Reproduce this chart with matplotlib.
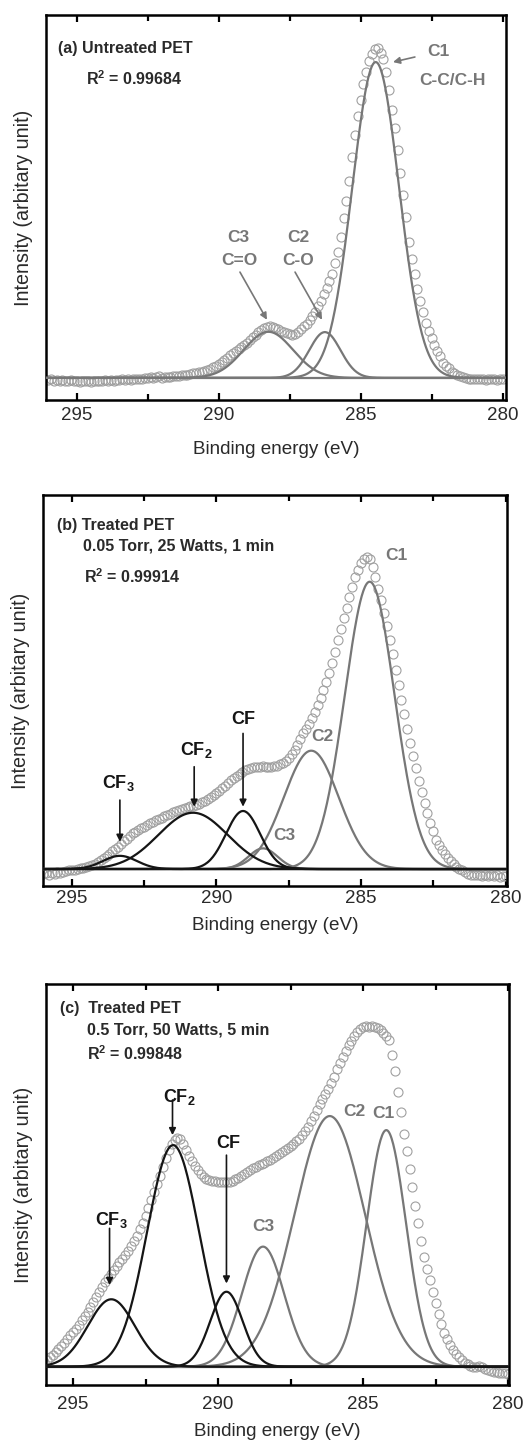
import numpy as np
import matplotlib
matplotlib.use('Agg')
import matplotlib.pyplot as plt

plt.rcParams['font.family'] = ['Liberation Sans', 'DejaVu Sans']
plt.rcParams['mathtext.fontset'] = 'custom'
plt.rcParams['mathtext.rm'] = 'Liberation Sans'
plt.rcParams['mathtext.bf'] = 'Liberation Sans:bold'

# binding energy grid of the measured points (eV), 296.0 -> 280.0
energy = np.round(np.arange(296.0, 279.95, -0.1), 1)

# (a) untreated PET, measured intensity
data_a = [
    -0.8, -0.5, -0.9, -0.6, -1.0, -0.7, -0.9, -1.1, -0.8, -1.0,
    -0.9, -1.2, -1.0, -1.1, -0.9, -1.2, -1.0, -1.1, -0.9, -1.0,
    -0.8, -1.0, -0.7, -0.9, -0.6, -0.8, -0.5, -0.7, -0.4, -0.6,
    -0.3, -0.5, -0.2, -0.3, 0.0, -0.1, 0.2, 0.1, 0.4, 0.5,
    0.1, 0.2, 0.3, 0.4, 0.5, 0.6, 0.7, 0.8, 0.9, 1.0,
    1.2, 1.4, 1.6, 1.8, 2.0, 2.3, 2.5, 2.9, 3.4, 3.9,
    4.4, 5.0, 5.6, 6.3, 7.1, 7.8, 8.5, 9.1, 9.8, 10.4,
    11.0, 11.9, 12.8, 13.7, 14.5, 15.2, 15.7, 16.2, 16.3, 16.1,
    15.8, 15.5, 15.0, 14.5, 14.1, 13.8, 13.6, 13.8, 14.5, 15.5,
    16.3, 17.2, 18.2, 19.5, 21.0, 22.8, 24.5, 26.5, 28.5, 30.6,
    33.0, 36.5, 40.0, 44.5, 50.5, 56.0, 62.5, 70.0, 77.0, 83.0,
    88.0, 93.0, 97.0, 100.2, 102.5, 104.0, 104.3, 103.0, 101.0, 97.0,
    91.0, 84.8, 79.0, 72.0, 64.8, 58.0, 51.0, 43.0, 37.5, 33.0,
    28.0, 24.5, 21.0, 17.5, 15.0, 12.5, 10.5, 8.5, 6.8, 4.8,
    3.8, 3.0, 2.0, 1.4, 1.0, 0.6, 0.3, 0.0, -0.2, -0.3,
    -0.4, -0.2, -0.5, -0.3, -0.6, -0.4, -0.5, -0.3, -0.6, -0.4, -0.5,
]

# (b) treated PET 0.05 Torr, 25 W, 1 min
data_b = [
    -1.8, -1.5, -1.9, -1.4, -1.6, -1.2, -1.3, -0.9, -0.8, -0.5,
    -0.4, -0.2, 0.0, 0.2, 0.4, 0.6, 0.9, 1.3, 1.8, 2.4,
    3.0, 3.7, 4.5, 5.4, 6.2, 7.0, 7.8, 8.7, 9.6, 10.5,
    11.5, 12.4, 13.0, 13.6, 14.2, 14.7, 15.3, 15.9, 16.4, 16.9,
    17.4, 17.9, 18.4, 18.9, 19.3, 19.7, 20.1, 20.5, 20.9, 21.2,
    21.5, 21.8, 22.1, 22.4, 22.8, 23.3, 23.8, 24.4, 25.0, 25.6,
    26.3, 27.2, 28.1, 29.0, 29.9, 30.9, 31.8, 32.5, 33.2, 33.8,
    34.3, 34.8, 35.1, 35.4, 35.5, 35.6, 35.7, 35.6, 35.5, 35.5,
    35.7, 36.0, 36.4, 36.9, 37.7, 38.7, 40.0, 41.6, 43.3, 45.1,
    47.2, 48.8, 50.5, 52.4, 54.7, 57.1, 59.6, 62.4, 65.2, 68.1,
    71.6, 75.6, 79.7, 83.6, 87.4, 91.0, 94.6, 98.3, 101.8, 104.2,
    106.4, 108.0, 108.7, 107.8, 105.0, 101.5, 97.5, 93.6, 89.2, 84.6,
    79.8, 74.8, 69.2, 64.2, 59.0, 53.8, 48.8, 44.0, 39.4, 35.0,
    30.8, 26.8, 23.0, 19.4, 16.2, 13.2, 10.1, 8.3, 6.6, 5.1,
    3.8, 2.8, 1.8, 0.8, 0.1, -0.5, -1.2, -1.6, -1.9, -2.0,
    -2.2, -1.9, -2.3, -2.0, -2.4, -2.1, -2.5, -2.2, -2.6, -2.3, -2.5,
]

# (c) treated PET 0.5 Torr, 50 W, 5 min
data_c = [
    2.0, 2.8, 3.9, 4.8, 5.7, 7.0, 8.2, 9.6, 11.0, 12.5,
    13.8, 15.2, 16.8, 18.5, 20.2, 22.0, 23.9, 25.9, 27.9, 29.8,
    31.7, 33.7, 35.4, 36.9, 38.5, 40.0, 41.6, 43.1, 44.6, 46.3,
    48.1, 50.0, 52.3, 54.8, 57.4, 60.3, 63.4, 66.5, 69.6, 72.8,
    76.2, 79.7, 83.2, 86.3, 89.0, 90.6, 91.2, 90.8, 88.9, 86.6,
    84.2, 81.9, 80.0, 78.3, 76.8, 75.8, 75.0, 74.5, 74.1, 73.9,
    73.8, 73.6, 73.5, 73.7, 73.8, 74.2, 74.8, 75.4, 76.2, 77.0,
    77.8, 78.6, 79.1, 79.7, 80.3, 80.8, 81.3, 81.9, 82.5, 83.3,
    84.1, 84.9, 85.6, 86.4, 87.2, 88.1, 89.0, 89.9, 90.9, 92.3,
    94.0, 95.8, 97.9, 100.1, 102.4, 104.8, 106.8, 108.8, 110.7, 113.0,
    115.6, 118.7, 121.2, 123.5, 125.8, 128.2, 130.1, 131.8, 133.4, 134.6,
    135.4, 135.9, 135.7, 136.1, 135.5, 135.2, 134.3, 133.0, 131.9, 130.4,
    124.5, 117.8, 109.5, 101.8, 93.0, 86.0, 79.0, 71.5, 64.2, 57.2,
    50.0, 43.8, 39.0, 34.6, 29.8, 25.3, 21.2, 17.0, 13.6, 11.1,
    8.8, 6.6, 5.1, 3.7, 2.5, 1.6, 0.9, 0.4, 0.0, -0.2,
    0.1, -0.3, -0.8, -1.3, -1.7, -2.0, -2.3, -2.4, -2.7, -2.5, -2.8,
]

# fitted peaks: name -> (centre eV, height, sigma eV)
peaks_a = {'C1': (284.47, 100.0, 0.82), 'C2': (286.26, 14.5, 0.55), 'C3': (288.25, 14.6, 0.87)}
peaks_b = {'C1': (284.70, 100.0, 0.86), 'C2': (286.72, 41.2, 0.95), 'C3': (288.39, 7.2, 0.50),
           'CF': (289.08, 20.2, 0.59), 'CF2': (290.81, 19.6, 1.20), 'CF3': (293.34, 4.6, 0.59)}
peaks_c = {'C1': (284.20, 94.4, 0.68), 'C2': (286.15, 100.0, 1.22), 'C3': (288.45, 47.9, 0.73),
           'CF': (289.71, 29.9, 0.56), 'CF2': (291.55, 88.4, 0.90), 'CF3': (293.68, 26.9, 0.81)}

GRAY = '#777777'
DOT = '#a0a0a0'
BLACK = '#151515'
TXT = '#2a2a2a'

INFO = 11.5   # panel title / conditions / R2
LAB = 12.5    # gray component labels
CFS = 13      # black CF labels

fig = plt.figure(figsize=(5.32, 14.43), dpi=100)
ax_a = fig.add_axes([0.0865, 0.7228, 0.8647, 0.2668])
ax_b = fig.add_axes([0.0808, 0.3860, 0.8722, 0.2710])
ax_c = fig.add_axes([0.0865, 0.0402, 0.8703, 0.2779])

xfine = np.linspace(296.2, 279.8, 600)


def gauss(c, h, s):
    return h * np.exp(-(xfine - c) ** 2 / (2 * s ** 2))


def setup(ax, xlim, ylim, base_col, pad, lpad):
    ax.set_xlim(*xlim)
    ax.set_ylim(*ylim)
    ax.axhline(0, color=base_col, lw=1.6, zorder=1)
    ax.set_xticks([295, 290, 285, 280])
    ax.set_xticks([292.5, 287.5, 282.5], minor=True)
    ax.set_yticks([])
    ax.tick_params(axis='x', which='both', direction='in', top=True, width=1.6, pad=pad,
                   labelsize=13.5, labelcolor=TXT)
    ax.tick_params(axis='x', which='major', length=5)
    ax.tick_params(axis='x', which='minor', length=4)
    for sp in ax.spines.values():
        sp.set_linewidth(1.8)
    ax.set_xlabel('Binding energy (eV)', fontsize=13.6, color=TXT, labelpad=lpad)
    ax.set_ylabel('Intensity (arbitary unit)', fontsize=14.2, color=TXT)
    ax.yaxis.set_label_coords(-0.028, 0.5)


def draw(ax, data, peaks, black):
    ax.plot(energy, data, 'o', ms=6.5, mfc='none', mec=DOT, mew=0.8, zorder=2)
    for name, (c, h, s) in peaks.items():
        col = BLACK if name in black else GRAY
        ax.plot(xfine, gauss(c, h, s), color=col, lw=1.6, zorder=3)


def arrow(ax, xy, xytext, col):
    ax.annotate('', xy=xy, xytext=xytext,
                arrowprops=dict(arrowstyle='-|>', color=col, lw=1.2, mutation_scale=10,
                                shrinkA=0, shrinkB=0))


def info(ax, x, y, s):
    ax.text(x, y, s, fontsize=INFO, fontweight='bold', va='center', color=TXT)


def glab(ax, x, y, s):
    ax.text(x, y, s, fontsize=LAB, fontweight='bold', ha='center', va='center', color=GRAY)


def cflab(ax, x, y, s):
    ax.text(x, y, s, fontsize=CFS, fontweight='bold', ha='center', va='center', color=BLACK)


# ---- (a)
setup(ax_a, (296.08, 279.88), (-7.0, 114.9), GRAY, 5, 12)
draw(ax_a, data_a, peaks_a, [])
info(ax_a, 295.66, 104.4, '(a) Untreated PET')
info(ax_a, 294.67, 94.9, r'$\mathbf{R^2}$ = 0.99684')
glab(ax_a, 282.28, 103.2, 'C1')
glab(ax_a, 281.75, 94.3, 'C-C/C-H')
arrow(ax_a, (283.86, 100.0), (283.09, 101.6), GRAY)
glab(ax_a, 289.32, 44.6, 'C3')
glab(ax_a, 289.27, 37.3, 'C=O')
arrow(ax_a, (288.30, 18.4), (289.25, 33.5), GRAY)
glab(ax_a, 287.21, 44.6, 'C2')
glab(ax_a, 287.21, 37.3, 'C-O')
arrow(ax_a, (286.36, 18.4), (287.31, 33.5), GRAY)

# ---- (b)
setup(ax_b, (296.0, 279.95), (-5.9, 130.2), BLACK, 3, 7)
draw(ax_b, data_b, peaks_b, ['CF', 'CF2', 'CF3'])
info(ax_b, 295.53, 119.7, '(b) Treated PET')
info(ax_b, 294.61, 112.4, '0.05 Torr, 25 Watts, 1 min')
info(ax_b, 294.59, 101.7, r'$\mathbf{R^2}$ = 0.99914')
glab(ax_b, 283.78, 109.3, 'C1')
glab(ax_b, 286.34, 46.1, 'C2')
glab(ax_b, 287.64, 11.8, 'C3')
cflab(ax_b, 289.08, 51.9, 'CF')
arrow(ax_b, (289.08, 21.7), (289.08, 47.2), BLACK)
cflab(ax_b, 290.69, 41.4, r'CF$_\mathbf{2}$')
arrow(ax_b, (290.77, 21.7), (290.77, 35.6), BLACK)
cflab(ax_b, 293.40, 29.8, r'CF$_\mathbf{3}$')
arrow(ax_b, (293.34, 9.5), (293.34, 24.0), BLACK)

# ---- (c)
setup(ax_c, (295.93, 279.97), (-7.3, 152.7), '#555555', 8, 7)
draw(ax_c, data_c, peaks_c, ['CF', 'CF2', 'CF3'])
info(ax_c, 295.46, 143.0, '(c)  Treated PET')
info(ax_c, 294.52, 134.3, '0.5 Torr, 50 Watts, 5 min')
info(ax_c, 294.52, 125.0, r'$\mathbf{R^2}$ = 0.99848')
glab(ax_c, 285.29, 101.7, 'C2')
glab(ax_c, 284.31, 101.1, 'C1')
glab(ax_c, 288.45, 55.9, 'C3')
cflab(ax_c, 289.66, 89.1, 'CF')
arrow(ax_c, (289.71, 33.2), (289.71, 84.4), BLACK)
cflab(ax_c, 291.32, 107.7, r'CF$_\mathbf{2}$')
arrow(ax_c, (291.57, 92.4), (291.57, 106.4), BLACK)
cflab(ax_c, 293.68, 58.5, r'CF$_\mathbf{3}$')
arrow(ax_c, (293.74, 32.6), (293.74, 55.2), BLACK)

fig.savefig('out.png', dpi=100, facecolor='white')
